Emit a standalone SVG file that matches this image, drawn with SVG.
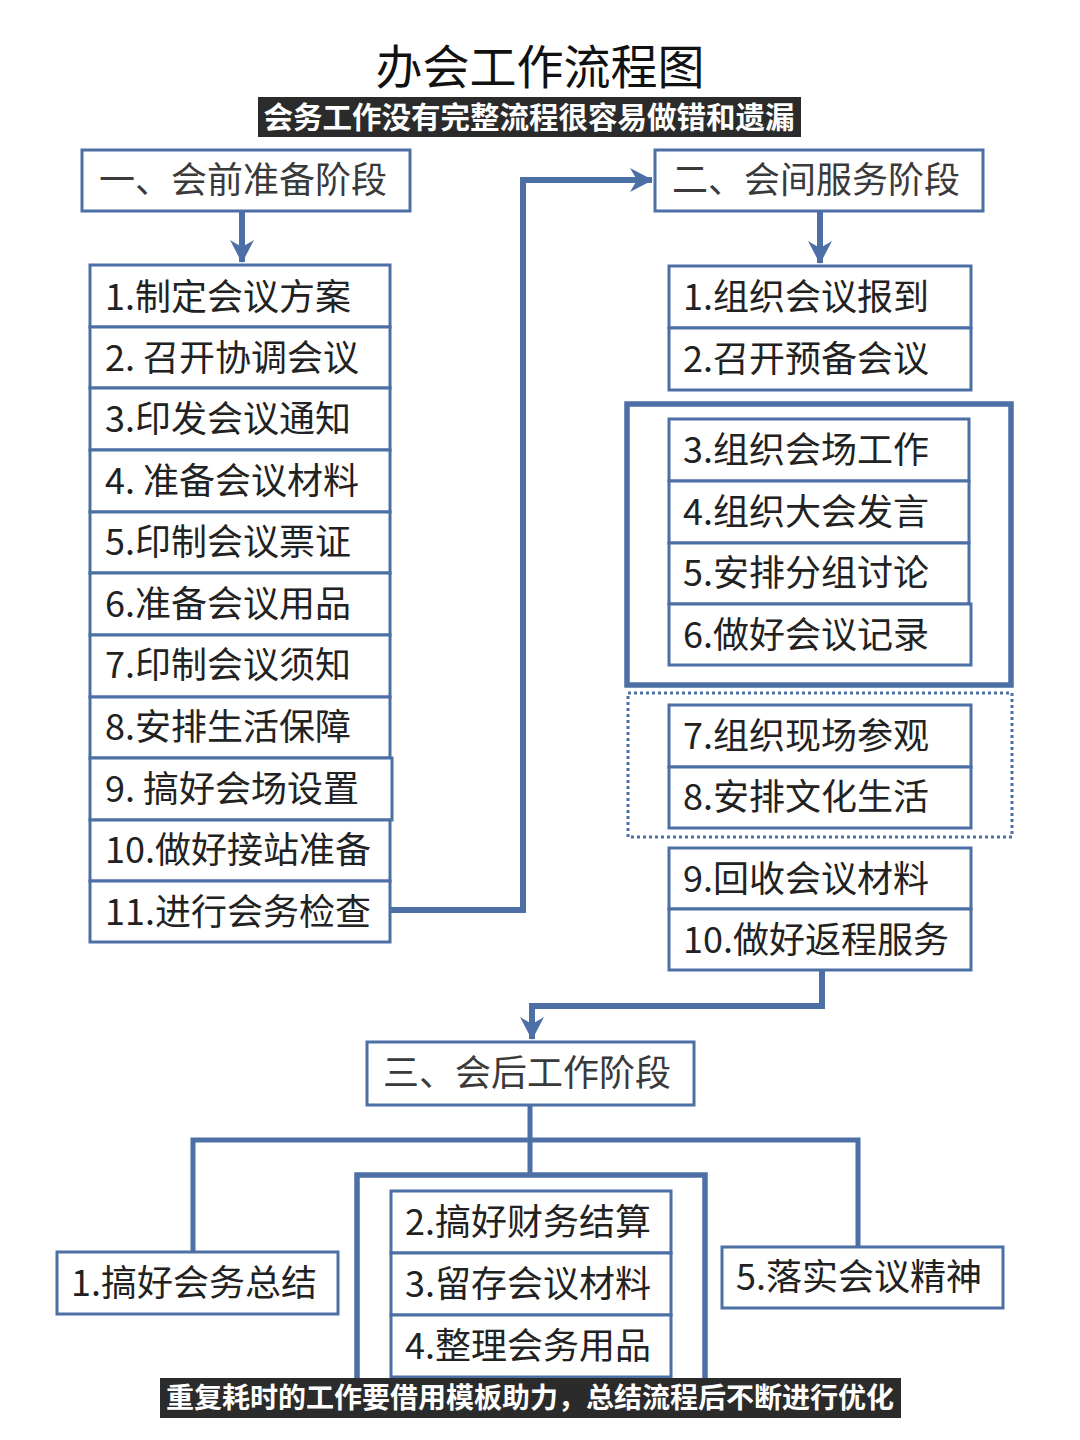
<svg xmlns="http://www.w3.org/2000/svg" width="1080" height="1440" viewBox="0 0 1080 1440">
<defs>
<style>
.box{fill:#fff;stroke:#4c6fa6;stroke-width:3}
.grp{fill:none;stroke:#4c6fa6;stroke-width:5.5}
.dot{fill:none;stroke:#4c6fa6;stroke-width:3;stroke-dasharray:3 3}
.con{fill:none;stroke:#4c6fa6;stroke-width:6}
.thin{fill:none;stroke:#4c6fa6;stroke-width:5}
.t{font-family:"Noto Sans CJK SC","Noto Sans",sans-serif;font-size:36px;fill:#222}
.h{font-family:"Noto Sans CJK SC","Noto Sans",sans-serif;font-size:36px;fill:#3a3a3a}
.cap{font-family:"Noto Sans CJK SC","Noto Sans",sans-serif;font-weight:bold;fill:#fff}
</style>
<marker id="ah" markerUnits="userSpaceOnUse" markerWidth="24" markerHeight="26" refX="22" refY="13" orient="auto" viewBox="0 0 24 26">
<path d="M0,1 L23,13 L0,25 L7,13 Z" fill="#4c6fa6"/>
</marker>
</defs>
<rect width="1080" height="1440" fill="#fff"/>

<text x="540" y="84" text-anchor="middle" font-family="Noto Sans CJK SC, sans-serif" font-size="47" fill="#111">办会工作流程图</text>
<rect x="258" y="97" width="543" height="40" fill="#2b2b2b"/>
<text class="cap" x="529" y="128" text-anchor="middle" font-size="29.5">会务工作没有完整流程很容易做错和遗漏</text>

<g id="connectors">
<path class="con" d="M242,211 V262" marker-end="url(#ah)"/>
<path class="con" d="M390,910 H523 V180 H652" marker-end="url(#ah)"/>
<path class="con" d="M820,211 V263" marker-end="url(#ah)"/>
<path class="con" d="M822,970 V1006 H532 V1039" marker-end="url(#ah)"/>
<path class="thin" d="M530,1105 V1176"/>
<path class="thin" d="M193,1252 V1140 H858 V1247"/>
</g>

<g id="stage1">
<rect class="box" x="82" y="150" width="328" height="61"/>
<text class="h" x="99" y="193">一、会前准备阶段</text>
</g>
<g id="stage1-items">
<rect class="box" x="90" y="265" width="300" height="62"/><text class="t" x="105" y="310">1.制定会议方案</text>
<rect class="box" x="90" y="327" width="300" height="61"/><text class="t" x="105" y="371">2. 召开协调会议</text>
<rect class="box" x="90" y="388" width="300" height="62"/><text class="t" x="105" y="432">3.印发会议通知</text>
<rect class="box" x="90" y="450" width="300" height="62"/><text class="t" x="105" y="494">4. 准备会议材料</text>
<rect class="box" x="90" y="512" width="300" height="61"/><text class="t" x="105" y="555">5.印制会议票证</text>
<rect class="box" x="90" y="573" width="300" height="62"/><text class="t" x="105" y="617">6.准备会议用品</text>
<rect class="box" x="90" y="635" width="300" height="62"/><text class="t" x="105" y="678">7.印制会议须知</text>
<rect class="box" x="90" y="697" width="300" height="61"/><text class="t" x="105" y="740">8.安排生活保障</text>
<rect class="box" x="90" y="758" width="302" height="62"/><text class="t" x="105" y="802">9. 搞好会场设置</text>
<rect class="box" x="90" y="820" width="300" height="61"/><text class="t" x="105" y="863">10.做好接站准备</text>
<rect class="box" x="90" y="881" width="300" height="61"/><text class="t" x="105" y="925">11.进行会务检查</text>
</g>

<g id="stage2">
<rect class="box" x="655" y="150" width="328" height="61"/>
<text class="h" x="672" y="193">二、会间服务阶段</text>
</g>
<g id="stage2-items">
<rect class="box" x="669" y="266" width="302" height="62"/><text class="t" x="683" y="310">1.组织会议报到</text>
<rect class="box" x="669" y="328" width="302" height="62"/><text class="t" x="683" y="372">2.召开预备会议</text>
</g>
<g id="stage2-group-a">
<rect class="grp" x="627" y="404" width="384" height="281"/>
<rect class="box" x="669" y="419" width="300" height="62"/><text class="t" x="683" y="463">3.组织会场工作</text>
<rect class="box" x="669" y="481" width="300" height="62"/><text class="t" x="683" y="525">4.组织大会发言</text>
<rect class="box" x="669" y="543" width="300" height="61"/><text class="t" x="683" y="586">5.安排分组讨论</text>
<rect class="box" x="669" y="604" width="302" height="61"/><text class="t" x="683" y="648">6.做好会议记录</text>
</g>
<g id="stage2-group-b">
<rect class="dot" x="628" y="693" width="384" height="144"/>
<rect class="box" x="669" y="705" width="302" height="62"/><text class="t" x="683" y="749">7.组织现场参观</text>
<rect class="box" x="669" y="767" width="302" height="61"/><text class="t" x="683" y="810">8.安排文化生活</text>
</g>
<g id="stage2-items-b">
<rect class="box" x="669" y="848" width="302" height="61"/><text class="t" x="683" y="892">9.回收会议材料</text>
<rect class="box" x="669" y="909" width="302" height="61"/><text class="t" x="683" y="953">10.做好返程服务</text>
</g>

<g id="stage3">
<rect class="box" x="367" y="1042" width="327" height="63"/>
<text class="h" x="383" y="1086">三、会后工作阶段</text>
</g>
<g id="stage3-item1">
<rect class="box" x="57" y="1252" width="281" height="62"/><text class="t" x="71" y="1296">1.搞好会务总结</text>
</g>
<g id="stage3-item5">
<rect class="box" x="722" y="1247" width="281" height="61"/><text class="t" x="736" y="1290">5.落实会议精神</text>
</g>
<g id="stage3-group">
<rect class="grp" x="357" y="1175" width="348" height="230"/>
<rect class="box" x="391" y="1191" width="280" height="62"/><text class="t" x="405" y="1235">2.搞好财务结算</text>
<rect class="box" x="391" y="1253" width="280" height="62"/><text class="t" x="405" y="1297">3.留存会议材料</text>
<rect class="box" x="391" y="1315" width="280" height="62"/><text class="t" x="405" y="1359">4.整理会务用品</text>
</g>

<rect x="160" y="1378" width="741" height="40" fill="#2b2b2b"/>
<text class="cap" x="530" y="1408" text-anchor="middle" font-size="28">重复耗时的工作要借用模板助力，总结流程后不断进行优化</text>
</svg>
